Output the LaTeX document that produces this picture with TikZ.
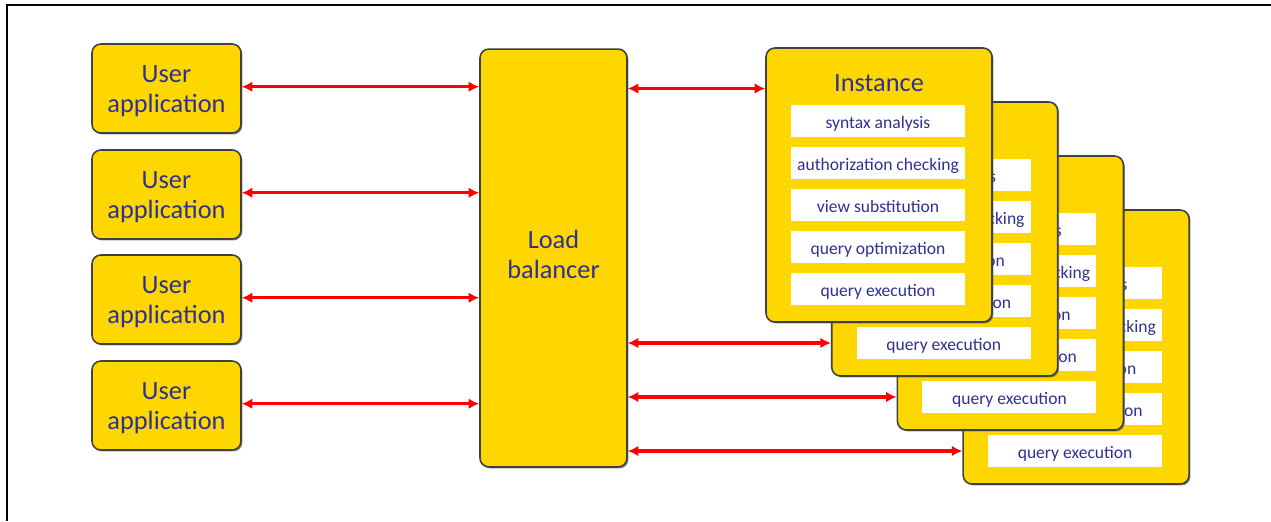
\documentclass[tikz,border=0pt]{standalone}
\usepackage{fontspec}
\setmainfont{Carlito}
\usepackage{tikz}
\usetikzlibrary{arrows.meta, shadows}
\tikzset{>={Latex[length=6pt,width=6pt]}}
\definecolor{boxyellow}{RGB}{255,215,0}
\definecolor{textblue}{RGB}{46,49,146}
\tikzset{
  ybox/.style={draw=black!75, line width=0.9pt, fill=boxyellow, rounded corners=5pt,
    drop shadow={shadow xshift=0.8pt, shadow yshift=-0.8pt, fill=black!70, opacity=0.7},
    text=textblue, align=center, inner sep=0pt, font=\fontsize{15}{17}\selectfont},
  stepbox/.style={fill=white, minimum width=3.48cm, minimum height=0.64cm, inner sep=0pt,
    text height=9.5pt, text depth=0.5pt, text=textblue, font=\fontsize{10}{12}\selectfont},
  link/.style={<->, red, line width=1.8pt},
}

\begin{document}
\begin{tikzpicture}[x=0.02cm, y=-0.02cm]

    \useasboundingbox (0,0) rectangle (1271,521);
    \draw[line width=1.4pt] (7,521) -- (7,5) -- (1271,5);

    % User applications
    \foreach \i/\y in {1/88.5, 2/194.5, 3/299.5, 4/405.5}{
        \node[ybox, minimum width=2.98cm, minimum height=1.78cm] (ua\i) at (166.5,\y) {\rule{0pt}{13pt}User\\application};
    }

    % Load balancer
    \node[ybox, minimum width=2.94cm, minimum height=8.36cm] (lb) at (553.5,258) {Load\\balancer\rule[-4.6pt]{0pt}{0pt}};

    % Instances, back to front
    \foreach \i in {4,3,2,1}{
        \pgfmathsetmacro\cx{766+(\i-1)*65.7+113}
        \pgfmathsetmacro\cy{48+(\i-1)*54}
        \node[ybox, minimum width=4.52cm, minimum height=5.48cm] (inst\i) at ({\cx},{\cy+137}) {};
        \foreach \k/\txt in {1/syntax analysis, 2/authorization checking, 3/view substitution,
                             4/query optimization, 5/query execution}{
            \node[stepbox] (st\i\k) at ({\cx-1},{\cy+73+42*(\k-1)}) {\txt};
        }
    }
    \node[text=textblue, font=\fontsize{15}{17}\selectfont] (title1) at (879,83) {Instance};

    % Connections
    \foreach \i in {1,...,4}{
        \draw[link] ([yshift=1pt]ua\i.east) -- ([yshift=1pt]ua\i.east -| lb.west);
    }
    \draw[link] (lb.east |- ua1) -- (inst1.west |- ua1);
    \foreach \i in {2,3,4}{
        \draw[link] (lb.east |- st\i5) -- (inst\i.west |- st\i5);
    }

\end{tikzpicture}
\end{document}
